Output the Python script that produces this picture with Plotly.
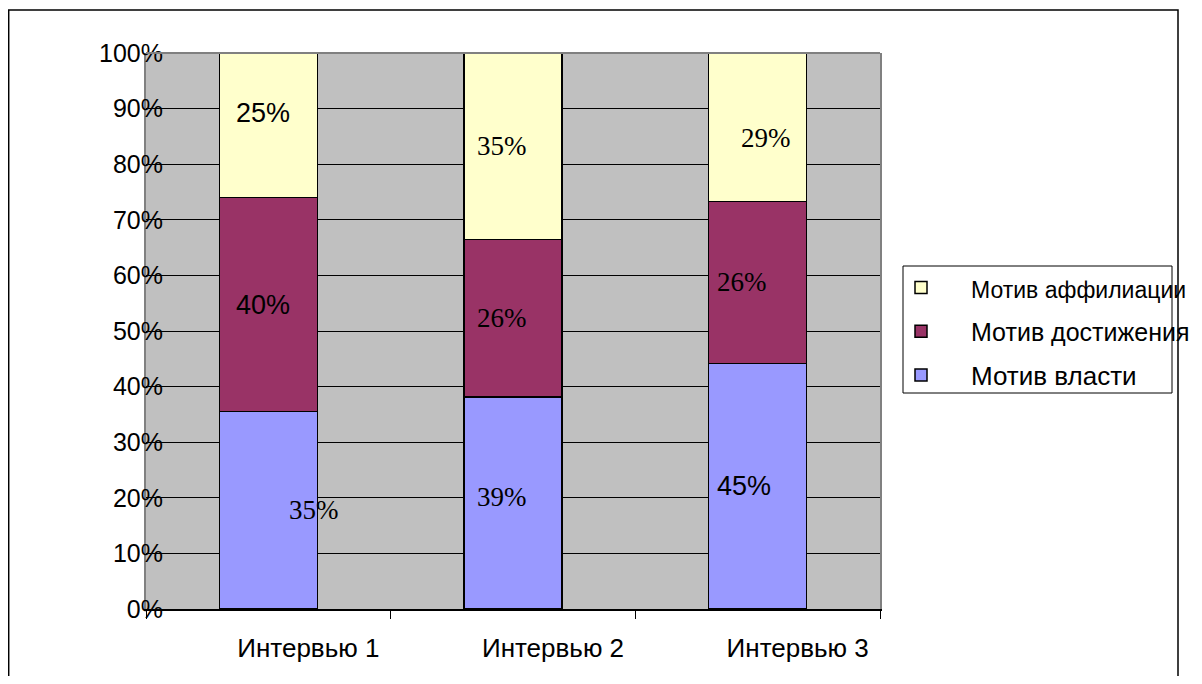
import plotly.graph_objects as go

categories = ["Интервью 1", "Интервью 2", "Интервью 3"]
series_names = ["Мотив власти", "Мотив достижения", "Мотив аффилиации"]
vlast = [35.5, 38.1, 44.2]
dostizh = [38.5, 28.4, 29.1]
affil = [26.0, 33.5, 26.7]
labels_vlast = ["35%", "39%", "45%"]
labels_dostizh = ["40%", "26%", "26%"]
labels_affil = ["25%", "35%", "29%"]
y_ticks = [0, 10, 20, 30, 40, 50, 60, 70, 80, 90, 100]
y_ticktext = [f"{v}%" for v in y_ticks]

colors = ["#9999FF", "#993366", "#FFFFCC"]
series = [vlast, dostizh, affil]
series_labels = [labels_vlast, labels_dostizh, labels_affil]

ARIAL = "Arial, Liberation Sans, sans-serif"
TIMES = "Times New Roman, Liberation Serif, serif"
# label style: (font family, xshift, yshift) per series per category
label_style = [
    [(TIMES, 46, 0), (TIMES, -11, 6), (ARIAL, -14, 0)],
    [(ARIAL, -5, 0), (TIMES, -11, 0), (TIMES, -16, 0)],
    [(ARIAL, -5, 12), (TIMES, -11, 0), (TIMES, 8, -11)],
]

fig = go.Figure()
legend_font_sizes = [26, 25, 23]
for i, (name, vals) in enumerate(zip(series_names, series)):
    fig.add_trace(go.Bar(
        x=categories, y=vals,
        name=f'<span style="font-size:{legend_font_sizes[i]}px">{name}</span>',
        legendgroup=f"g{i}", legendrank=10 - i,
        marker=dict(color=colors[i], line=dict(color="black", width=1.5)),
        hoverinfo="skip",
    ))

annotations = []
for ci, cat in enumerate(categories):
    total = sum(s[ci] for s in series)
    base = 0.0
    for si, s in enumerate(series):
        v = s[ci] / total * 100
        mid = base + v / 2
        base += v
        fam, dx, dy = label_style[si][ci]
        annotations.append(dict(
            x=cat, y=mid, xref="x", yref="y", text=series_labels[si][ci],
            showarrow=False, xshift=dx, yshift=dy,
            font=dict(family=fam, size=27, color="black"),
        ))

OFF = 8  # page body margin
FW, FH = 1186, 668
L, T = 146 - OFF, 53 - OFF
R = FW - (880 - OFF)
B = FH - (609 - OFF)
W, H = FW - L - R, FH - T - B


def px(xp):
    return (xp - OFF - L) / W


def py(yp):
    return (FH - B - (yp - OFF)) / H


shapes = [
    # outer chart border
    dict(type="rect", xref="paper", yref="paper",
         x0=px(8.7), x1=px(1178), y0=py(720), y1=py(10),
         line=dict(color="black", width=1.5), fillcolor="rgba(0,0,0,0)", layer="below"),
    # legend box
    dict(type="rect", xref="paper", yref="paper",
         x0=px(903), x1=px(1172), y0=py(393), y1=py(266),
         line=dict(color="black", width=1), fillcolor="white", layer="below"),
    # plot area top frame
    dict(type="line", xref="paper", yref="paper", x0=0, x1=1, y0=1, y1=1,
         line=dict(color="#808080", width=2), layer="above"),
]

fig.update_layout(
    width=FW, height=FH,
    margin=dict(l=L, r=R, t=T, b=B, autoexpand=False),
    barmode="stack", barnorm="percent", bargap=0.6,
    paper_bgcolor="white", plot_bgcolor="#C0C0C0",
    font=dict(family=ARIAL, size=24, color="black"),
    showlegend=True,
    legend=dict(
        x=px(871), xanchor="left", y=py(264), yanchor="top",
        traceorder="grouped", tracegroupgap=7, itemwidth=90,
        bgcolor="rgba(0,0,0,0)", borderwidth=0,
        font=dict(family=ARIAL, size=26, color="black"),
    ),
    xaxis=dict(
        type="category", showgrid=False, ticks="outside", tickson="boundaries",
        ticklen=8, tickcolor="black", showline=True, linecolor="black", linewidth=1.5,
        mirror=False, tickfont=dict(family=ARIAL, size=26), ticklabelstandoff=15,
        ticklabelshift=40,
    ),
    yaxis=dict(
        range=[0, 100], tickvals=y_ticks, ticktext=y_ticktext,
        showgrid=True, gridcolor="black", gridwidth=1,
        showline=True, linecolor="#808080", linewidth=2, mirror=True, zeroline=False,
        ticks="", ticklabelstandoff=-24,
        tickfont=dict(family=ARIAL, size=25),
    ),
    annotations=annotations,
    shapes=shapes,
)

fig.write_html("out.html")
